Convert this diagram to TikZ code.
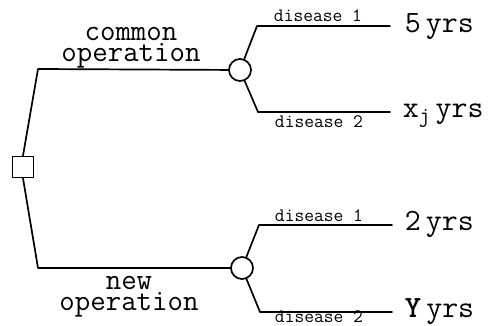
\documentclass[tikz,border=0pt]{standalone}
\usepackage{fontspec}
\begin{document}
\begin{tikzpicture}[x=1pt, y=-1pt, line width=1.7pt, line join=round, line cap=round,
	chance/.style={circle, draw, minimum size=22pt, inner sep=0pt},
	decision/.style={rectangle, draw, minimum size=21pt, inner sep=0pt},
	dislbl/.style={font=\ttfamily\fontsize{19}{19}\selectfont, inner sep=0pt, anchor=base},
	oplbl/.style={font=\ttfamily\fontsize{30}{21}\selectfont, align=center, inner sep=0pt},
	yrslbl/.style={font=\ttfamily\fontsize{31}{31}\selectfont, inner sep=0pt, anchor=base west}]
	\clip (0,0) rectangle (488,326); % khung hình
	\node[decision] (dq) at (23,167) {};
	\node[chance] (c1) at (240,70) {};
	\node[chance] (c2) at (242,268) {};
	\coordinate (k1) at (38,69);
	\coordinate (k2) at (38,268);
	\coordinate (a1) at (257,26);  \coordinate (a1e) at (390,26);
	\coordinate (b1) at (258,112); \coordinate (b1e) at (390,112);
	\coordinate (a2) at (259,225); \coordinate (a2e) at (392,225);
	\coordinate (b2) at (260,312); \coordinate (b2e) at (392,312);
	\draw (dq.north) -- (k1) -- (c1);
	\draw (dq.south) -- (k2) -- (c2);
	\draw (c1) -- (a1) -- (a1e) (c1) -- (b1) -- (b1e);
	\draw (c2) -- (a2) -- (a2e) (c2) -- (b2) -- (b2e);
	\node[oplbl] (op1) at (131,48) {common\\operation};
	\node[oplbl] (op2) at (129,297) {new\\operation};
	\node[dislbl] (d11) at (318,22) {disease 1};
	\node[dislbl] (d12) at (319,128) {disease 2};
	\node[dislbl] (d21) at (319,222) {disease 1};
	\node[dislbl] (d22) at (319,323) {disease 2};
	\node[yrslbl] (v11) at (404,33) {5\,yrs};
	\node[yrslbl] (v12) at (402,118) {x\textsubscript{j}\,yrs};
	\node[yrslbl] (v21) at (404,231) {2\,yrs};
	\node[yrslbl] (v22) at (404,317) {\textbf{Y}\,yrs};
\end{tikzpicture}
\end{document}
